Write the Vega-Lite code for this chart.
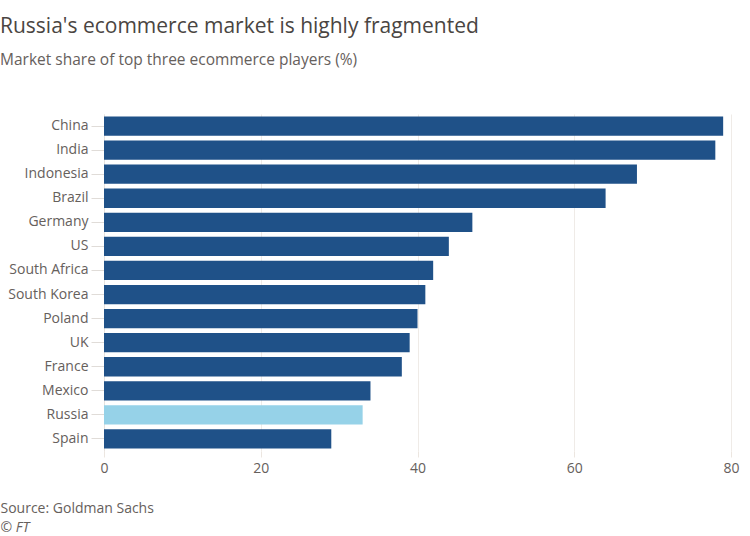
{
  "$schema": "https://vega.github.io/schema/vega-lite/v6.json",
  "autosize": "none",
  "width": 627,
  "height": 337,
  "padding": {"left": 104, "top": 114, "right": 19, "bottom": 85},
  "background": "white",
  "title": {
    "text": "Russia's ecommerce market is highly fragmented",
    "subtitle": "Market share of top three ecommerce players (%)",
    "anchor": "start",
    "frame": "group",
    "dx": -104,
    "offset": 46,
    "font": "Open Sans",
    "fontSize": 21,
    "fontWeight": "normal",
    "color": "#4a4542",
    "subtitleFont": "Open Sans",
    "subtitleFontSize": 15.5,
    "subtitleColor": "#66605c",
    "subtitlePadding": 16
  },
  "data": {
    "values": [
      {"country": "China", "share": 79, "highlight": "no"},
      {"country": "India", "share": 78, "highlight": "no"},
      {"country": "Indonesia", "share": 68, "highlight": "no"},
      {"country": "Brazil", "share": 64, "highlight": "no"},
      {"country": "Germany", "share": 47, "highlight": "no"},
      {"country": "US", "share": 44, "highlight": "no"},
      {"country": "South Africa", "share": 42, "highlight": "no"},
      {"country": "South Korea", "share": 41, "highlight": "no"},
      {"country": "Poland", "share": 40, "highlight": "no"},
      {"country": "UK", "share": 39, "highlight": "no"},
      {"country": "France", "share": 38, "highlight": "no"},
      {"country": "Mexico", "share": 34, "highlight": "no"},
      {"country": "Russia", "share": 33, "highlight": "yes"},
      {"country": "Spain", "share": 29, "highlight": "no"}
    ]
  },
  "mark": {"type": "bar"},
  "encoding": {
    "y": {
      "field": "country",
      "type": "nominal",
      "sort": null,
      "scale": {"paddingInner": 0.2, "paddingOuter": 0.1},
      "axis": {
        "title": "© FT",
        "titleAngle": 0,
        "titleX": -104,
        "titleY": 413,
        "titleAlign": "left",
        "titleBaseline": "middle",
        "titleFont": "Open Sans",
        "titleFontSize": 14,
        "titleFontStyle": "italic",
        "titleFontWeight": "normal",
        "titleColor": "#66605c",
        "labelFont": "Open Sans",
        "labelFontSize": 14,
        "labelColor": "#66605c",
        "labelPadding": 3,
        "tickColor": "#e0dcd8",
        "tickSize": 13,
        "domain": true,
        "domainColor": "#e6e2de",
        "grid": false
      }
    },
    "x": {
      "field": "share",
      "type": "quantitative",
      "scale": {"domain": [0, 80], "nice": false},
      "axis": {
        "values": [0, 20, 40, 60, 80],
        "title": "Source: Goldman Sachs",
        "titleX": -104,
        "titleY": 57,
        "titleAlign": "left",
        "titleBaseline": "middle",
        "titleFont": "Open Sans",
        "titleFontSize": 14,
        "titleFontWeight": "normal",
        "titleColor": "#66605c",
        "labelFont": "Open Sans",
        "labelFontSize": 14,
        "labelColor": "#66605c",
        "labelPadding": 4,
        "labelFlush": false,
        "tickColor": "#ece6e0",
        "tickSize": 6,
        "domain": false,
        "grid": true,
        "gridColor": "#efebe7"
      }
    },
    "color": {
      "field": "highlight",
      "type": "nominal",
      "scale": {"domain": ["no", "yes"], "range": ["#1f5188", "#96d2e8"]},
      "legend": null
    }
  },
  "config": {"view": {"stroke": null}}
}
